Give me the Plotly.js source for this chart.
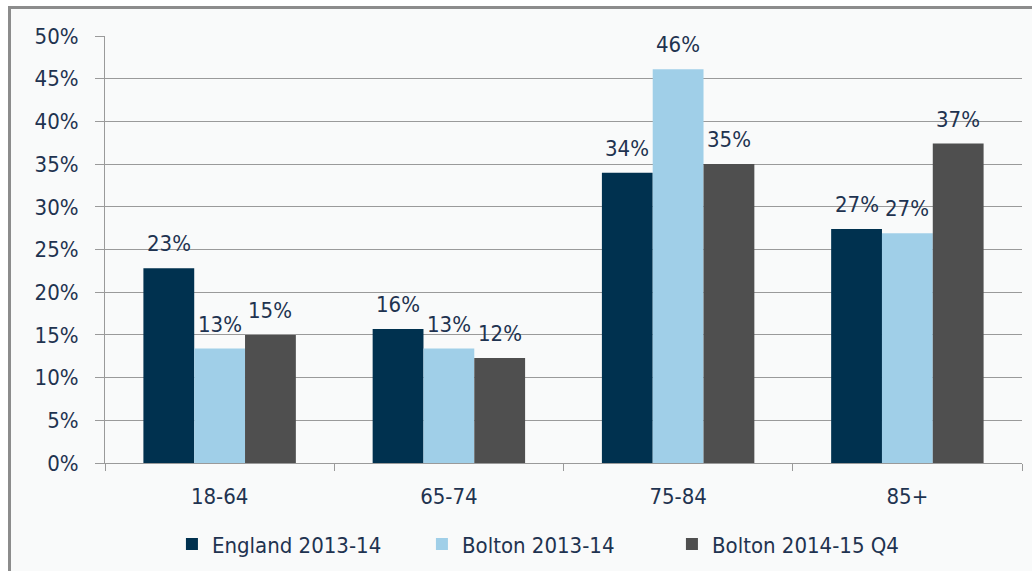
<!DOCTYPE html>
<html>
<head>
<meta charset="utf-8">
<script src="https://cdn.plot.ly/plotly-3.0.1.min.js"></script>
<style>
  body { margin: 0; background: #ffffff; }
  #frame { position: absolute; left: 8px; top: 6px; width: 1030px; height: 570px;
           border-left: 3px solid #8c8c8c; border-top: 3px solid #8c8c8c; background: #f9fafa; }
  #chart { position: absolute; left: 0; top: 0; width: 1032px; height: 571px; }
</style>
</head>
<body>
<div id="frame"></div>
<div id="chart"></div>
<script>
// age bands and the three series (fractions)
let ageBands = ["18-64", "65-74", "75-84", "85+"];
let england1314 = [0.228, 0.157, 0.340, 0.274];
let bolton1314 = [0.134, 0.134, 0.461, 0.269];
let bolton1415q4 = [0.150, 0.123, 0.350, 0.374];

let seriesNames = ["England 2013-14", "Bolton 2013-14", "Bolton 2014-15 Q4"];
let seriesColors = ["#00314f", "#a0cfe8", "#4f4f4f"];
let allSeries = [england1314, bolton1314, bolton1415q4];

let textColor = "#1f3350";
let font = { family: "DejaVu Sans Condensed, DejaVu Sans, sans-serif", size: 22, color: textColor };

let traces = allSeries.map((vals, i) => ({
    x: ageBands,
    y: vals,
    type: "bar",
    name: seriesNames[i],
    marker: { color: seriesColors[i] }
}));

// data labels sit a little higher above the bars than plotly's own text does
let bargap = 0.335;
let plotW = 1032 - 105 - 10;
let barPx = plotW / ageBands.length * (1 - bargap) / allSeries.length;
let labels = [];
allSeries.forEach((vals, i) => {
    vals.forEach((v, j) => {
        labels.push({
            x: ageBands[j], y: v, xref: "x", yref: "y",
            text: Math.round(v * 100) + "%",
            showarrow: false,
            xshift: (i - 1) * barPx,
            yanchor: "bottom",
            yshift: 10,
            font: font
        });
    });
});

let layout = {
    width: 1032,
    height: 571,
    margin: { l: 105, r: 10, t: 36, b: 108, autoexpand: false },
    paper_bgcolor: "rgba(0,0,0,0)",
    plot_bgcolor: "rgba(0,0,0,0)",
    font: font,
    barmode: "group",
    bargap: bargap,
    bargroupgap: 0,
    showlegend: true,
    legend: {
        orientation: "h",
        x: 0.073, xanchor: "left",
        y: -0.19, yanchor: "middle",
        font: font,
        itemwidth: 30,
        entrywidth: 205,
        traceorder: "normal"
    },
    annotations: labels,
    xaxis: {
        type: "category",
        showline: true,
        linecolor: "#9a9a9a",
        linewidth: 1,
        ticks: "outside",
        tickson: "boundaries",
        ticklen: 7,
        tickcolor: "#9a9a9a",
        ticklabelstandoff: 14,
        showgrid: false,
        automargin: false,
        tickfont: font
    },
    yaxis: {
        range: [0, 0.5],
        dtick: 0.05,
        tickformat: ".0%",
        showline: true,
        linecolor: "#9a9a9a",
        linewidth: 1,
        ticks: "outside",
        ticklen: 9,
        tickcolor: "#9a9a9a",
        ticklabelstandoff: 12,
        gridcolor: "#9a9a9a",
        gridwidth: 1,
        zeroline: false,
        automargin: false,
        tickfont: font
    }
};

Plotly.newPlot("chart", traces, layout, { displayModeBar: false });
</script>
</body>
</html>
